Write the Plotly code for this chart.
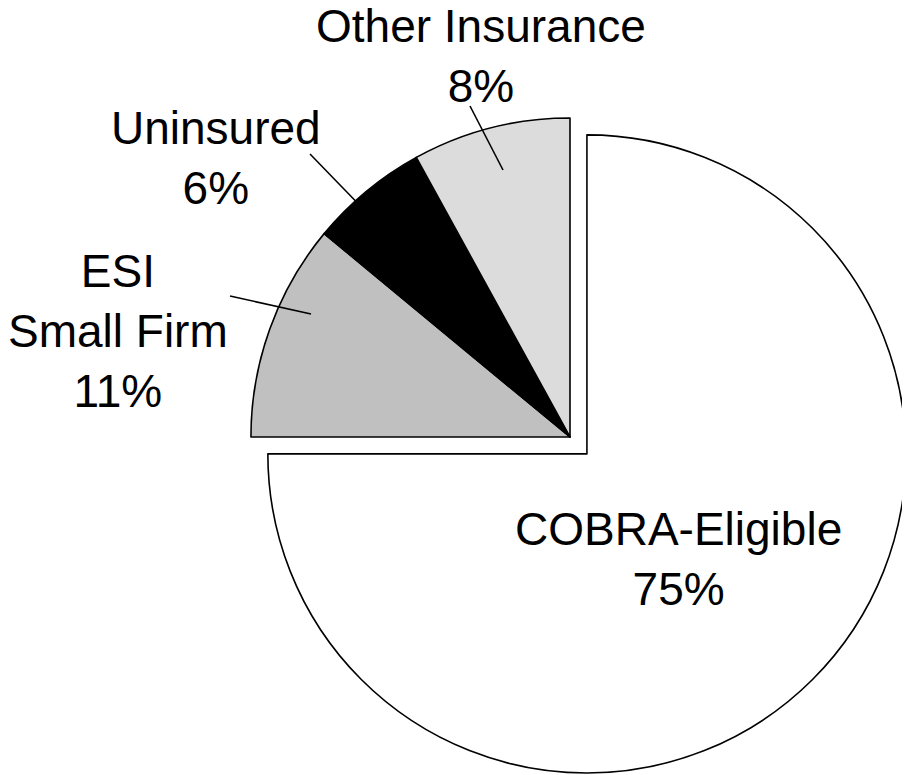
import plotly.graph_objects as go

# slice data, clockwise from 12 o'clock
categories = ["COBRA-Eligible", "ESI<br>Small Firm", "Uninsured", "Other Insurance"]
shares = [75, 11, 6, 8]
colors = ["#ffffff", "#c0c0c0", "#000000", "#dcdcdc"]
pulls = [0.075, 0, 0, 0]

W, H = 910, 775
OFF = 8  # default body margin of the html page

# label centres and leader lines, in page pixels
label_pos = {
    "COBRA-Eligible": (678, 559),
    "ESI<br>Small Firm": (118, 331),
    "Uninsured": (216, 158),
    "Other Insurance": (481, 56),
}
leaders = {
    "ESI<br>Small Firm": ((230, 296), (311, 314)),
    "Uninsured": ((310, 154), (372, 218)),
    "Other Insurance": ((470, 106), (503, 170)),
}


def px(x, y):
    return (x - OFF) / W, 1 - (y - OFF) / H


# pie box: centre (570, 437) on the page, half size 343
cx, cy, half = 570 - OFF, 437 - OFF, 343
dom_x = [(cx - half) / W, (cx + half) / W]
dom_y = [1 - (cy + half) / H, 1 - (cy - half) / H]

fig = go.Figure(go.Pie(
    labels=categories,
    values=shares,
    sort=False,
    direction="clockwise",
    rotation=0,
    pull=pulls,
    marker=dict(colors=colors, line=dict(color="black", width=1.6)),
    textinfo="none",
    hoverinfo="label+percent",
    domain=dict(x=dom_x, y=dom_y),
))

for name, val in zip(categories, shares):
    lx, ly = px(*label_pos[name])
    fig.add_annotation(
        x=lx, y=ly, xref="paper", yref="paper",
        text=f"{name}<br>{val}%", showarrow=False,
        xanchor="center", yanchor="middle",
        font=dict(family="Liberation Sans, Arial, sans-serif", size=46, color="black"),
    )

for name, (p0, p1) in leaders.items():
    x0, y0 = px(*p0)
    x1, y1 = px(*p1)
    fig.add_shape(type="line", xref="paper", yref="paper",
                  x0=x0, y0=y0, x1=x1, y1=y1,
                  line=dict(color="black", width=1.6))

fig.update_layout(
    width=W, height=H,
    margin=dict(l=0, r=0, t=0, b=0),
    paper_bgcolor="white",
    plot_bgcolor="white",
    showlegend=False,
)

fig.write_html("out.html")
